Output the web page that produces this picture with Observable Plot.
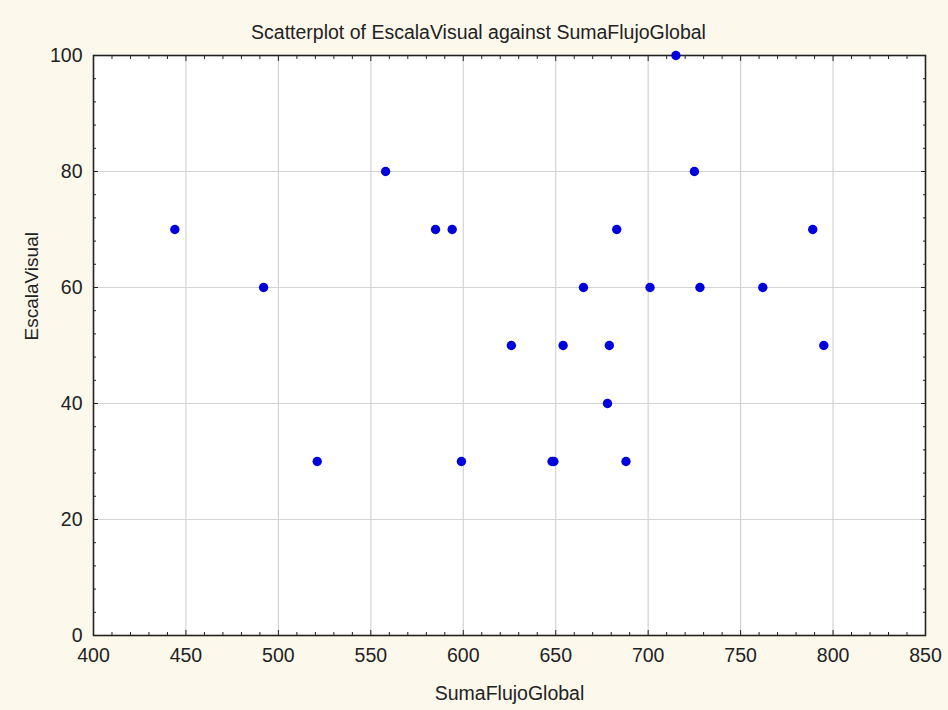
<!DOCTYPE html>
<html>
<head>
<meta charset="utf-8">
<script src="https://cdn.jsdelivr.net/npm/d3@7"></script>
<script src="https://cdn.jsdelivr.net/npm/@observablehq/plot@0.6"></script>
<style>
  html, body { margin: 0; padding: 0; background: #fcf8ec; }
  #chart svg { display: block; }
</style>
</head>
<body>
<div id="chart"></div>
<script>
// Data
const sumaFlujoGlobal = [444, 492, 521, 558, 585, 594, 599, 626, 648, 649, 654, 665, 678, 679, 683, 688, 701, 715, 725, 728, 762, 789, 795];
const escalaVisual    = [70,  60,  30,  80,  70,  70,  30,  50,  30,  30,  50,  60,  40,  50,  70,  30,  60,  100, 80,  60,  60,  70,  50];

const xMajorTicks = [400, 450, 500, 550, 600, 650, 700, 750, 800, 850];
const yMajorTicks = [0, 20, 40, 60, 80, 100];
const xMinorTicks = d3.range(400, 851, 10).filter(v => v % 50 !== 0);
const yMinorTicks = d3.range(0, 101, 4).filter(v => v % 20 !== 0);

const titleText = "Scatterplot of EscalaVisual against SumaFlujoGlobal";
const xLabel = "SumaFlujoGlobal";
const yLabel = "EscalaVisual";

const points = sumaFlujoGlobal.map((x, i) => ({x, y: escalaVisual[i]}));

const font = "'Liberation Sans', Arial, sans-serif";
const ink = "#222";

const chart = Plot.plot({
  width: 948,
  height: 710,
  marginLeft: 93,
  marginRight: 23,
  marginTop: 55,
  marginBottom: 75,
  style: { background: "#fcf8ec", fontFamily: font, fontSize: "19.5px", color: ink, overflow: "visible" },
  x: { domain: [400, 850] },
  y: { domain: [0, 100] },
  marks: [
    Plot.frame({ fill: "white", stroke: "none" }),
    Plot.gridX(xMajorTicks.filter(v => v > 400 && v < 850), { stroke: "#d4d4d4", strokeOpacity: 1, strokeWidth: 1.2 }),
    Plot.gridY(yMajorTicks.filter(v => v > 0 && v < 100), { stroke: "#d4d4d4", strokeOpacity: 1, strokeWidth: 1.2 }),
    // inward ticks on all four sides
    Plot.axisX(xMajorTicks, { anchor: "bottom", tickSize: -5, text: null, label: null, stroke: ink }),
    Plot.axisX(xMinorTicks, { anchor: "bottom", tickSize: -3, text: null, label: null, stroke: ink }),
    Plot.axisX(xMajorTicks, { anchor: "top", tickSize: -5, text: null, label: null, stroke: ink }),
    Plot.axisX(xMinorTicks, { anchor: "top", tickSize: -3, text: null, label: null, stroke: ink }),
    Plot.axisY(yMajorTicks, { anchor: "left", tickSize: -5, text: null, label: null, stroke: ink }),
    Plot.axisY(yMinorTicks, { anchor: "left", tickSize: -3, text: null, label: null, stroke: ink }),
    Plot.axisY(yMajorTicks, { anchor: "right", tickSize: -5, text: null, label: null, stroke: ink }),
    Plot.axisY(yMinorTicks, { anchor: "right", tickSize: -3, text: null, label: null, stroke: ink }),
    // tick labels
    Plot.axisX(xMajorTicks, { anchor: "bottom", tickSize: 0, tickPadding: 13, label: null, fill: ink, fontSize: 19.5 }),
    Plot.axisY(yMajorTicks, { anchor: "left", tickSize: 0, tickPadding: 11, label: null, fill: ink, fontSize: 19.5 }),
    Plot.frame({ stroke: ink, strokeWidth: 1.6 }),
    Plot.dot(points, { x: "x", y: "y", r: 4.7, fill: "#0000dc", stroke: "none" }),
    // titles
    Plot.text([titleText], { text: d => d, frameAnchor: "top", dx: -31, dy: -23, fontSize: 19.5, fill: ink, lineAnchor: "middle" }),
    Plot.text([xLabel], { text: d => d, frameAnchor: "bottom", dy: 58, fontSize: 19.5, fill: ink, lineAnchor: "middle" }),
    Plot.text([yLabel], { text: d => d, frameAnchor: "left", dx: -62, dy: -5, rotate: -90, fontSize: 19, fill: ink, lineAnchor: "middle" })
  ]
});

document.getElementById("chart").appendChild(chart);
</script>
</body>
</html>
